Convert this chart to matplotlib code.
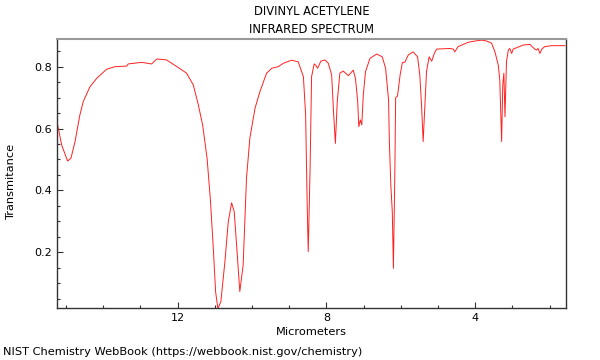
#!/usr/bin/env python
"""
Divinyl acetylene infrared spectrum, NIST WebBook style.
"""

import matplotlib
matplotlib.use('Agg')
import matplotlib.pyplot as plt
from matplotlib.ticker import MultipleLocator

# wavelength (micrometers) and transmittance
micrometers = [
    15.245, 15.12, 14.96, 14.87, 14.76, 14.63, 14.54, 14.36, 14.18, 13.91,
    13.69, 13.37, 13.33, 12.97, 12.70, 12.56, 12.30, 11.98, 11.76, 11.58,
    11.45, 11.33, 11.21, 11.12, 11.04, 10.98, 10.92, 10.84, 10.73, 10.64,
    10.55, 10.48, 10.41, 10.33, 10.24, 10.15, 10.06, 9.92, 9.79, 9.61,
    9.47, 9.30, 9.16, 8.94, 8.76, 8.62, 8.56, 8.52, 8.49, 8.44,
    8.40, 8.33, 8.29, 8.24, 8.15, 8.04, 7.95, 7.86, 7.81, 7.76,
    7.71, 7.64, 7.55, 7.41, 7.28, 7.22, 7.16, 7.13, 7.09, 7.05,
    7.01, 6.95, 6.83, 6.65, 6.50, 6.41, 6.33, 6.31, 6.27, 6.23,
    6.20, 6.16, 6.14, 6.09, 6.02, 5.96, 5.89, 5.80, 5.67, 5.55,
    5.49, 5.44, 5.40, 5.35, 5.31, 5.24, 5.17, 5.10, 5.04, 4.68,
    4.59, 4.55, 4.46, 4.19, 4.01, 3.82, 3.69, 3.56, 3.47, 3.38,
    3.34, 3.29, 3.26, 3.23, 3.20, 3.16, 3.11, 3.07, 3.02, 2.98,
    2.71, 2.53, 2.40, 2.35, 2.31, 2.26, 2.21, 2.13, 1.95, 1.59,
]
transmittance = [
    0.622, 0.547, 0.495, 0.504, 0.558, 0.644, 0.687, 0.735, 0.762, 0.792,
    0.800, 0.802, 0.809, 0.814, 0.809, 0.825, 0.822, 0.797, 0.779, 0.741,
    0.679, 0.612, 0.504, 0.369, 0.207, 0.072, 0.018, 0.040, 0.170, 0.299,
    0.360, 0.331, 0.213, 0.073, 0.159, 0.439, 0.569, 0.666, 0.719, 0.779,
    0.795, 0.800, 0.811, 0.821, 0.816, 0.768, 0.644, 0.364, 0.202, 0.472,
    0.768, 0.809, 0.805, 0.795, 0.818, 0.822, 0.811, 0.773, 0.654, 0.552,
    0.687, 0.779, 0.786, 0.771, 0.789, 0.762, 0.687, 0.606, 0.628, 0.612,
    0.708, 0.784, 0.827, 0.841, 0.832, 0.795, 0.692, 0.563, 0.418, 0.331,
    0.148, 0.472, 0.700, 0.705, 0.773, 0.813, 0.815, 0.838, 0.848, 0.832,
    0.773, 0.666, 0.558, 0.687, 0.784, 0.832, 0.818, 0.843, 0.857, 0.859,
    0.857, 0.848, 0.865, 0.879, 0.883, 0.886, 0.883, 0.876, 0.848, 0.805,
    0.757, 0.558, 0.741, 0.779, 0.638, 0.816, 0.854, 0.859, 0.843, 0.857,
    0.870, 0.872, 0.857, 0.854, 0.859, 0.843, 0.857, 0.865, 0.868, 0.868,
]

# init figure
fig = plt.figure(figsize=(6, 3.6), dpi=100)
ax = fig.add_axes([0.095, 0.1453, 0.8483, 0.7455])

# plot spectrum
ax.plot(micrometers, transmittance, color='#ff2020', linewidth=0.7)

# axes limits, reversed wavelength
ax.set_xlim(15.245, 1.56)
ax.set_ylim(0.0208, 0.8886)

# ticks
ax.xaxis.set_major_locator(MultipleLocator(4))
ax.xaxis.set_minor_locator(MultipleLocator(1))
ax.yaxis.set_major_locator(MultipleLocator(0.2))
ax.yaxis.set_minor_locator(MultipleLocator(0.05))
ax.tick_params(which='both', direction='in', colors='#333333',
               labelcolor='black', labelsize=8, top=False, right=False)
ax.tick_params(which='major', length=4, width=0.8)
ax.tick_params(which='minor', length=2.5, width=0.8)

# frame
for side in ['left', 'bottom', 'right']:
    ax.spines[side].set_color('#333333')
    ax.spines[side].set_linewidth(1.0)
ax.spines['top'].set_color('#999999')
ax.spines['top'].set_linewidth(1.5)

# labels
ax.set_xlabel('Micrometers', fontsize=8.2, labelpad=3)
ax.set_ylabel('Transmitance', fontsize=8.2)
ax.yaxis.set_label_coords(-0.081, 0.47)
fig.text(0.519, 0.967, 'DIVINYL ACETYLENE', fontsize=8.3,
         ha='center', va='center')
fig.text(0.519, 0.919, 'INFRARED SPECTRUM', fontsize=8.3,
         ha='center', va='center')
fig.text(0.005, 0.022, 'NIST Chemistry WebBook (https://webbook.nist.gov/chemistry)',
         fontsize=8.2, ha='left', va='center')

# save
fig.savefig('out.png', dpi=100)
